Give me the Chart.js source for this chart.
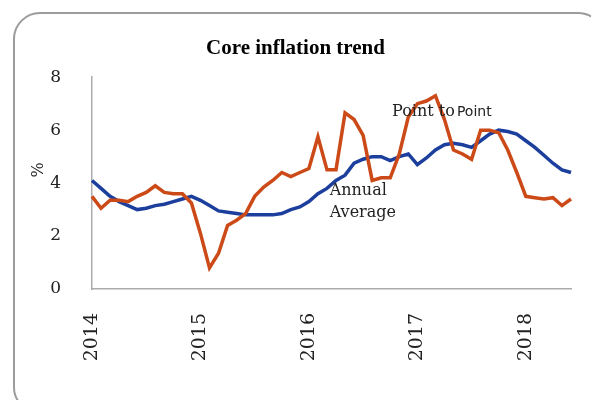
<!DOCTYPE html>
<html>
<head>
<meta charset="utf-8">
<script src="https://cdn.jsdelivr.net/npm/chart.js@4"></script>
<style>
  html, body { margin: 0; padding: 0; background: #ffffff; }
  #wrap { width: 591px; height: 400px; position: relative; }
</style>
</head>
<body>
<div id="wrap"><canvas id="c" width="591" height="400"></canvas></div>
<script>
// Monthly categories, Jan 2014 - Jun 2018
const categories = [
  'Jan 2014','Feb 2014','Mar 2014','Apr 2014','May 2014','Jun 2014','Jul 2014','Aug 2014','Sep 2014','Oct 2014','Nov 2014','Dec 2014',
  'Jan 2015','Feb 2015','Mar 2015','Apr 2015','May 2015','Jun 2015','Jul 2015','Aug 2015','Sep 2015','Oct 2015','Nov 2015','Dec 2015',
  'Jan 2016','Feb 2016','Mar 2016','Apr 2016','May 2016','Jun 2016','Jul 2016','Aug 2016','Sep 2016','Oct 2016','Nov 2016','Dec 2016',
  'Jan 2017','Feb 2017','Mar 2017','Apr 2017','May 2017','Jun 2017','Jul 2017','Aug 2017','Sep 2017','Oct 2017','Nov 2017','Dec 2017',
  'Jan 2018','Feb 2018','Mar 2018','Apr 2018','May 2018','Jun 2018'
];
const pointToPoint = [
  3.5, 3.05, 3.35, 3.35, 3.3, 3.5, 3.65, 3.9, 3.65, 3.6, 3.6, 3.25,
  2.1, 0.8, 1.35, 2.4, 2.6, 2.85, 3.5, 3.85, 4.1, 4.4, 4.25, 4.4,
  4.55, 5.75, 4.5, 4.5, 6.65, 6.4, 5.8, 4.1, 4.2, 4.2, 5.1, 6.5,
  7.0, 7.1, 7.3, 6.4, 5.25, 5.1, 4.9, 6.0, 6.0, 5.9, 5.25, 4.4,
  3.5, 3.45, 3.4, 3.45, 3.15, 3.4
];
const annualAverage = [
  4.1, 3.8, 3.5, 3.3, 3.15, 3.0, 3.05, 3.15, 3.2, 3.3, 3.4, 3.5,
  3.35, 3.15, 2.95, 2.9, 2.85, 2.8, 2.8, 2.8, 2.8, 2.85, 3.0, 3.1,
  3.3, 3.6, 3.8, 4.1, 4.3, 4.75, 4.9, 5.0, 5.0, 4.85, 5.0, 5.1,
  4.7, 4.95, 5.25, 5.45, 5.5, 5.45, 5.35, 5.6, 5.85, 6.0, 5.95, 5.85,
  5.6, 5.35, 5.05, 4.75, 4.5, 4.4
];
const yearTickLabels = ['2014', '2015', '2016', '2017', '2018'];
const yTickValues = [0, 2, 4, 6, 8];

const frameAndText = {
  id: 'frameAndText',
  beforeDraw(chart) {
    const ctx = chart.ctx;
    ctx.save();
    ctx.fillStyle = '#ffffff';
    ctx.fillRect(0, 0, chart.width, chart.height);
    ctx.strokeStyle = '#9c9c9c';
    ctx.lineWidth = 2;
    ctx.beginPath();
    ctx.roundRect(14, 13, 590, 400, 26);
    ctx.stroke();
    ctx.restore();
  },
  afterDatasetsDraw(chart) {
    const ctx = chart.ctx;
    const xs = chart.scales.x, ys = chart.scales.y;
    ctx.save();
    ctx.fillStyle = '#222222';
    ctx.textBaseline = 'middle';
    // Point to Point label
    ctx.textAlign = 'left';
    ctx.font = '16px "DejaVu Serif"';
    const px = xs.getPixelForValue(33.2), py = ys.getPixelForValue(6.68);
    ctx.fillText('Point to', px, py);
    const w = ctx.measureText('Point to ').width;
    ctx.font = '14px "DejaVu Sans"';
    ctx.fillText('Point', px + w - 3, py);
    // Annual Average label
    ctx.font = '16px "DejaVu Serif"';
    const ax = xs.getPixelForValue(26.3);
    ctx.fillText('Annual', ax, ys.getPixelForValue(3.7));
    ctx.fillText('Average', ax, ys.getPixelForValue(2.87));
    // % axis title
    ctx.save();
    ctx.translate(39, ys.getPixelForValue(4.5));
    ctx.rotate(-Math.PI / 2);
    ctx.textAlign = 'center';
    ctx.font = '16px "DejaVu Serif"';
    ctx.fillText('%', 0, 0);
    ctx.restore();
    ctx.restore();
  }
};

new Chart(document.getElementById('c'), {
  type: 'line',
  data: {
    labels: categories,
    datasets: [
      { label: 'Point to Point', data: pointToPoint, borderColor: '#CC4A17', borderWidth: 3.5, pointRadius: 0, tension: 0, fill: false },
      { label: 'Annual Average', data: annualAverage, borderColor: '#1C3F9D', borderWidth: 3.5, pointRadius: 0, tension: 0, fill: false }
    ]
  },
  options: {
    responsive: false,
    animation: false,
    devicePixelRatio: 1,
    layout: { padding: { left: 0, right: 0, top: 0, bottom: 0 } },
    plugins: {
      legend: { display: false },
      tooltip: { enabled: false },
      title: {
        display: true,
        text: 'Core inflation trend',
        color: '#000000',
        font: { family: '"Liberation Serif"', size: 21, weight: 'bold', lineHeight: 1.2 },
        padding: { top: 36, bottom: 16 }
      }
    },
    scales: {
      x: {
        type: 'category',
        offset: false,
        grid: { display: false },
        border: { display: true, color: '#ababab', width: 1.5 },
        afterFit(scale) { scale.height = 111; scale.paddingLeft = 0; scale.paddingRight = 20; },
        ticks: {
          autoSkip: false,
          minRotation: 90,
          maxRotation: 90,
          padding: 16,
          color: '#222222',
          font: { family: '"DejaVu Serif"', size: 19 },
          callback(value, index) {
            return index % 12 === 0 ? yearTickLabels[index / 12] : '';
          }
        }
      },
      y: {
        min: 0,
        max: 8,
        grid: { display: false },
        border: { display: true, color: '#ababab', width: 1.5 },
        afterFit(scale) { scale.width = 92; },
        afterBuildTicks(scale) { scale.ticks = yTickValues.map(v => ({ value: v })); },
        ticks: {
          padding: 23,
          color: '#222222',
          font: { family: '"DejaVu Serif"', size: 17 }
        }
      }
    }
  },
  plugins: [frameAndText]
});
</script>
</body>
</html>
